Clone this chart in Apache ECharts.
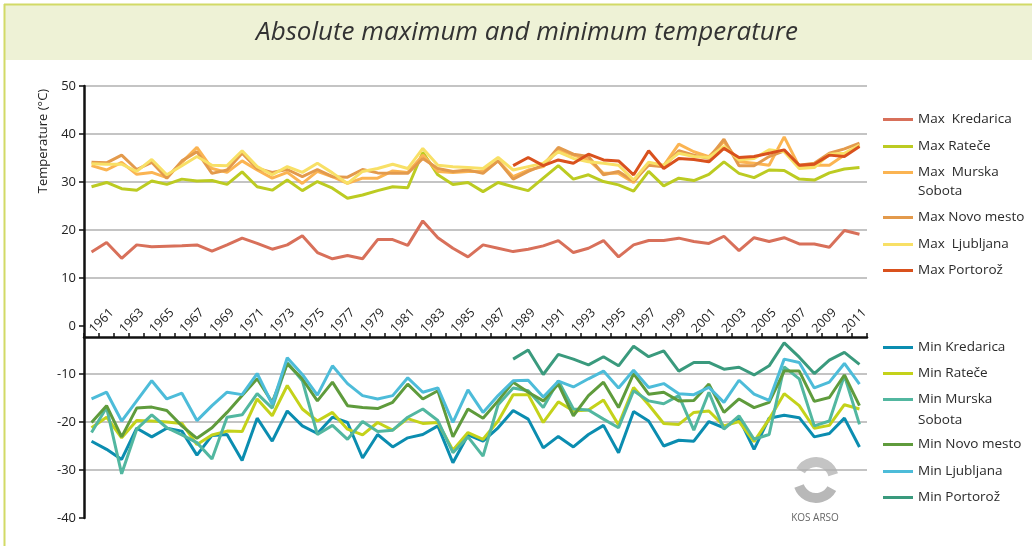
<!DOCTYPE html>
<html><head><meta charset="utf-8">
<script src="https://cdn.jsdelivr.net/npm/echarts@6/dist/echarts.min.js"></script>
<style>html,body{margin:0;padding:0;background:#fff}#c{width:1032px;height:546px}</style>
</head><body><div id="c"></div><script>
const years = ['1961','1962','1963','1964','1965','1966','1967','1968','1969','1970','1971','1972','1973','1974','1975','1976','1977','1978','1979','1980','1981','1982','1983','1984','1985','1986','1987','1988','1989','1990','1991','1992','1993','1994','1995','1996','1997','1998','1999','2000','2001','2002','2003','2004','2005','2006','2007','2008','2009','2010','2011','2012'];
const yTicks = [-40,-30,-20,-10,0,10,20,30,40,50];
const N = null;
const maxKredarica = [15.4,17.4,14.1,16.9,16.5,16.6,16.7,16.9,15.6,16.9,18.3,17.2,16.0,16.9,18.8,15.3,14.0,14.7,14.0,18.0,18.0,16.8,21.9,18.4,16.2,14.4,16.9,16.2,15.5,16.0,16.7,17.8,15.3,16.2,17.8,14.4,16.9,17.8,17.8,18.3,17.6,17.2,18.7,15.7,18.4,17.6,18.4,17.1,17.1,16.4,19.9,19.1];
const maxRatece = [29.0,29.9,28.6,28.3,30.2,29.5,30.6,30.2,30.3,29.5,32.1,29.0,28.3,30.4,28.2,30.1,28.7,26.6,27.3,28.2,29.0,28.8,36.2,31.5,29.5,29.9,28.0,29.9,29.0,28.2,30.8,33.4,30.6,31.5,30.1,29.4,28.1,32.2,29.2,30.8,30.3,31.6,34.2,31.8,30.9,32.5,32.4,30.6,30.4,31.9,32.7,33.0];
const maxMurska = [33.4,32.5,34.1,31.6,32.0,30.9,34.1,37.2,32.8,32.0,34.4,32.5,30.8,32.0,29.7,32.2,31.1,29.7,30.8,30.8,32.3,32.0,35.6,32.2,32.0,32.2,32.2,34.4,31.1,32.5,33.2,36.7,35.6,34.6,31.8,31.8,29.9,33.9,33.4,37.9,36.3,35.3,38.4,34.2,33.9,33.5,39.4,33.2,33.5,33.5,35.6,37.7];
const maxNovo = [34.1,34.0,35.6,32.6,34.1,30.8,34.4,36.3,31.8,32.5,36.0,32.8,32.0,32.6,31.1,32.6,31.1,31.0,32.6,31.9,31.8,31.8,34.9,32.8,32.2,32.5,31.8,34.4,30.6,32.2,33.5,37.2,35.8,35.3,31.5,32.2,30.2,33.5,33.2,36.5,35.6,34.9,38.9,33.4,33.4,35.3,36.5,33.5,33.9,36.0,36.9,38.1];
const maxLjubljana = [33.8,33.7,33.7,32.2,34.7,31.5,33.4,35.3,33.5,33.4,36.5,33.2,31.5,33.2,32.0,33.9,31.9,29.7,32.2,32.8,33.7,32.8,37.0,33.5,33.2,33.0,32.8,35.1,32.5,33.2,33.9,36.3,34.9,34.2,33.9,33.5,30.4,34.1,33.5,36.0,35.3,35.1,37.4,34.6,34.9,36.7,36.3,32.8,33.0,35.8,36.0,37.7];
const maxPortoroz = [N,N,N,N,N,N,N,N,N,N,N,N,N,N,N,N,N,N,N,N,N,N,N,N,N,N,N,N,33.4,35.1,33.4,34.6,33.9,35.8,34.6,34.4,31.5,36.5,32.8,34.9,34.7,34.2,37.0,35.1,35.3,36.0,36.7,33.5,33.7,35.6,35.3,37.4];
const minKredarica = [-24.0,-25.7,-27.8,-21.3,-23.1,-21.3,-21.9,-26.9,-22.8,-22.6,-28.0,-19.2,-24.0,-17.7,-20.8,-22.4,-19.0,-20.1,-27.5,-22.6,-25.2,-23.3,-22.6,-20.8,-28.5,-22.7,-24.0,-21.2,-17.6,-19.4,-25.4,-23.0,-25.2,-22.6,-20.7,-26.4,-17.8,-19.8,-25.0,-23.8,-24.0,-19.9,-21.2,-19.2,-25.7,-19.2,-18.6,-19.1,-23.1,-22.4,-19.2,-25.2];
const minRatece = [-21.2,-19.0,-23.3,-19.7,-19.8,-20.0,-20.3,-24.7,-22.7,-21.9,-22.0,-15.2,-18.7,-12.4,-17.3,-19.8,-18.0,-21.5,-22.7,-20.1,-21.7,-19.3,-20.3,-20.1,-25.9,-22.2,-23.6,-19.8,-14.3,-14.3,-20.1,-15.8,-17.7,-17.5,-15.4,-20.6,-12.8,-16.4,-20.3,-20.5,-18.0,-17.7,-20.8,-19.9,-24.1,-19.4,-14.1,-16.6,-21.3,-20.7,-16.4,-17.3];
const minMurska = [-22.2,-17.0,-30.8,-21.5,-18.5,-21.2,-22.7,-24.3,-27.7,-19.0,-18.5,-14.1,-17.1,-7.6,-11.4,-22.6,-20.7,-23.6,-19.9,-22.0,-21.7,-19.0,-17.3,-19.7,-26.4,-23.1,-27.1,-16.4,-12.9,-13.5,-17.0,-11.4,-17.3,-17.5,-19.4,-21.2,-13.5,-15.6,-16.2,-14.5,-21.7,-13.8,-21.5,-18.7,-23.6,-22.6,-8.5,-11.0,-20.8,-19.8,-10.3,-20.5];
const minNovo = [-20.1,-16.6,-23.1,-17.1,-16.9,-17.6,-20.8,-23.4,-21.2,-18.0,-14.5,-11.0,-15.9,-7.9,-11.0,-15.6,-11.7,-16.6,-17.0,-17.2,-15.9,-12.1,-15.2,-13.5,-23.1,-17.3,-19.2,-15.6,-11.7,-13.8,-15.6,-12.1,-18.7,-14.5,-11.7,-17.0,-9.9,-14.2,-13.8,-15.6,-15.5,-12.1,-18.0,-15.2,-17.0,-15.9,-9.4,-9.4,-15.7,-14.9,-10.2,-16.6];
const minLjubljana = [-15.2,-13.8,-19.8,-15.6,-11.4,-15.2,-14.0,-19.7,-16.6,-13.8,-14.3,-9.9,-16.3,-6.6,-10.1,-14.4,-8.3,-12.0,-14.5,-15.2,-14.5,-10.8,-13.8,-12.9,-20.1,-13.3,-18.0,-14.5,-11.4,-11.3,-14.8,-11.5,-12.7,-11.0,-9.4,-12.9,-9.2,-12.8,-12.0,-14.1,-14.3,-12.8,-15.9,-11.3,-14.2,-15.5,-6.9,-7.6,-12.9,-11.7,-7.8,-12.1];
const minPortoroz = [N,N,N,N,N,N,N,N,N,N,N,N,N,N,N,N,N,N,N,N,N,N,N,N,N,N,N,N,-6.9,-5.0,-10.1,-5.9,-6.9,-8.1,-6.4,-8.3,-4.2,-6.4,-5.2,-9.4,-7.6,-7.6,-9.0,-8.6,-10.2,-8.3,-3.5,-6.5,-9.9,-7.1,-5.5,-8.0];

const seriesNames = ['Max  Kredarica','Max Rateče','Max  Murska Sobota','Max Novo mesto','Max  Ljubljana','Max Portorož',
  'Min Kredarica','Min Rateče','Min Murska Sobota','Min Novo mesto','Min Ljubljana','Min Portorož'];
const seriesData = [maxKredarica,maxRatece,maxMurska,maxNovo,maxLjubljana,maxPortoroz,
  minKredarica,minRatece,minMurska,minNovo,minLjubljana,minPortoroz];
const colors = ['#d8705a','#bccb22','#fbb452','#e39a4c','#f8e066','#d9511d',
  '#0b8db0','#c4d21a','#52b7a0','#5f9b3c','#4dbcd9','#3a9a7d'];
const legendY = [121,148,174,219,246,272,349,375,401,446,473,499];
const FONT = '"Open Sans", "Noto Sans", sans-serif';

const chart = echarts.init(document.getElementById('c'));
const legends = seriesNames.map((n,k)=>({
  data:[n], orient:'vertical', left:883, top:legendY[k]-8.5, padding:0,
  itemWidth:30, itemHeight:14, selectedMode:false, symbolKeepAspect:true,
  icon:'path://M0,0L30,0L30,3L0,3Z',
  textStyle:{fontSize:13.5, color:'#2a2a2a', fontFamily:FONT},
  formatter: (name)=> name.indexOf('Murska Sobota')>=0 ? name.replace(' Sobota','') : name
}));
const splitColors = yTicks.map(v => (v===0 || v===-40) ? 'rgba(0,0,0,0)' : '#b0b0b0');

chart.setOption({
  animation:false,
  backgroundColor:'#fff',
  color: colors,
  grid:[{left:84,right:165,top:86,bottom:28},{left:84,right:165,top:337,height:1}],
  xAxis:[
    {gridIndex:0,type:'category',data:years,show:false,boundaryGap:true},
    {gridIndex:1,type:'category',data:years,position:'top',boundaryGap:true,
     axisLine:{onZero:false,lineStyle:{color:'#111',width:2.5}},
     axisTick:{show:true,interval:0,length:4,inside:false,lineStyle:{color:'#111',width:1.5}},
     axisLabel:{interval:1,rotate:-45,align:'left',verticalAlign:'middle',margin:6,fontSize:12.5,color:'#222',fontFamily:FONT},
     splitLine:{show:false}}
  ],
  yAxis:[
    {gridIndex:0,type:'value',min:-40,max:50,interval:10,
     axisLine:{show:true,lineStyle:{color:'#111',width:2.5}},
     axisTick:{show:true,length:5,lineStyle:{color:'#111',width:1.5}},
     axisLabel:{fontSize:13,color:'#222',margin:8,fontFamily:FONT},
     splitLine:{show:true,lineStyle:{color:splitColors,width:1.5}}},
    {gridIndex:1,type:'value',show:false}
  ],
  legend: legends,
  series: seriesNames.map((n,k)=>({
    name:n,type:'line',xAxisIndex:0,yAxisIndex:0,data:seriesData[k],
    symbol:'none',connectNulls:false,z:2+k,
    lineStyle:{width:3,color:colors[k]},itemStyle:{color:colors[k]}
  })),
  graphic:[
    {type:'rect',z:-10,shape:{x:4,y:4,width:1040,height:56},style:{fill:'#eef2d6'}},
    {type:'line',z:-5,shape:{x1:4,y1:4.5,x2:1032,y2:4.5},style:{stroke:'#d2da66',lineWidth:2}},
    {type:'line',z:-5,shape:{x1:4.5,y1:4,x2:4.5,y2:546},style:{stroke:'#d2da66',lineWidth:2}},
    {type:'text',x:527,y:33,style:{text:'Absolute maximum and minimum temperature',font:'italic 26px '+FONT,fill:'#333',align:'center',verticalAlign:'middle'}},
    {type:'text',x:43,y:141,rotation:Math.PI/2,style:{text:'Temperature (°C)',font:'13px '+FONT,fill:'#222',align:'center',verticalAlign:'middle'}},
    {type:'text',x:918,y:191,style:{text:'Sobota',font:'13.5px '+FONT,fill:'#2a2a2a',align:'left',verticalAlign:'middle'}},
    {type:'text',x:918,y:420,style:{text:'Sobota',font:'13.5px '+FONT,fill:'#2a2a2a',align:'left',verticalAlign:'middle'}},
    {type:'arc',shape:{cx:816,cy:480,r:18,startAngle:-2.6,endAngle:-0.3},style:{stroke:'#c4c4c4',fill:null,lineWidth:10}},
    {type:'arc',shape:{cx:816,cy:480,r:18,startAngle:0.5,endAngle:2.8},style:{stroke:'#b8b8b8',fill:null,lineWidth:10}},
    {type:'text',x:815,y:518,style:{text:'KOS ARSO',font:'10px '+FONT,fill:'#666',align:'center',verticalAlign:'middle'}}
  ]
});
</script></body></html>
